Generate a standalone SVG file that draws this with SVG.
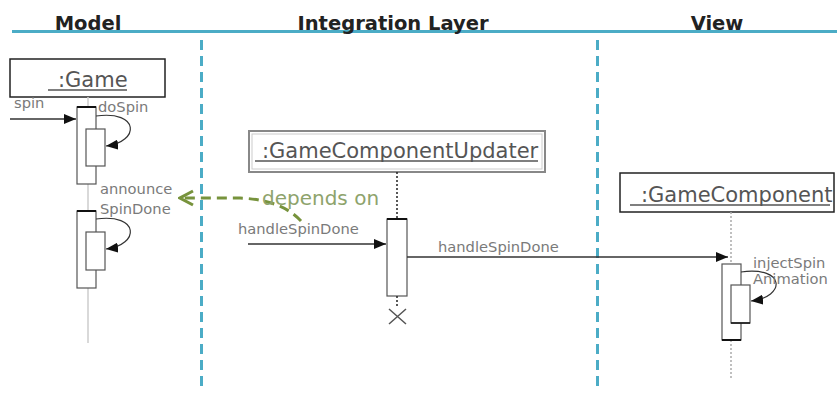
<svg xmlns="http://www.w3.org/2000/svg" width="837" height="394" viewBox="0 0 837 394">
<defs>
<style>
.title{font-family:"DejaVu Sans",Verdana,sans-serif;font-weight:bold;font-size:19.5px;fill:#222}
.obj{font-family:"DejaVu Sans",Verdana,sans-serif;font-size:21px;fill:#555}
.lbl{font-family:"DejaVu Sans",Verdana,sans-serif;font-size:14.7px;fill:#7a7a7a}
.dep{font-family:"DejaVu Sans",Verdana,sans-serif;font-size:20px;fill:#8ea36c}
.sep{stroke:#4bacc6;stroke-width:3;stroke-dasharray:10 6;fill:none}
.act{fill:#fff;stroke:#555;stroke-width:1.2}
.msg{stroke:#333;stroke-width:1.3;fill:none;marker-end:url(#ah)}
.self{stroke:#333;stroke-width:1.2;fill:none;marker-end:url(#ah)}
.ul{stroke:#555;stroke-width:1.5}
</style>
<marker id="ah" viewBox="0 0 12 10" refX="12" refY="5" markerWidth="12" markerHeight="10" markerUnits="userSpaceOnUse" orient="auto">
<path d="M0,0 L12,5 L0,10 Z" fill="#111"/>
</marker>
<marker id="oh" viewBox="0 0 18 18" refX="16" refY="9" markerWidth="18" markerHeight="18" markerUnits="userSpaceOnUse" orient="auto">
<path d="M3,2 L16,9 L3,16" fill="none" stroke="#77933c" stroke-width="3"/>
</marker>
</defs>
<rect width="837" height="394" fill="#fff"/>

<g id="swimlanes">
<line x1="12" y1="31.5" x2="837" y2="31.5" stroke="#4bacc6" stroke-width="3"/>
<text class="title" x="88" y="30" text-anchor="middle">Model</text>
<text class="title" x="393" y="30" text-anchor="middle">Integration Layer</text>
<text class="title" x="717" y="30" text-anchor="middle">View</text>
<line class="sep" x1="201.5" y1="40" x2="201.5" y2="392"/>
<line class="sep" x1="597.5" y1="40" x2="597.5" y2="392"/>
</g>

<g id="game">
<rect x="10" y="59" width="155" height="38" fill="#fff" stroke="#222" stroke-width="1.5"/>
<text class="obj" x="58" y="87">:Game</text>
<line class="ul" x1="48" y1="90" x2="127" y2="90"/>
<line x1="88" y1="97" x2="88" y2="343" stroke="#ccc" stroke-width="1.5"/>
<rect class="act" x="77" y="107" width="19" height="77"/>
<line x1="77" y1="107" x2="96" y2="107" stroke="#111" stroke-width="2"/>
<rect class="act" x="86" y="129" width="19" height="37"/>
<rect class="act" x="77" y="211" width="19" height="77"/>
<line x1="77" y1="211" x2="96" y2="211" stroke="#111" stroke-width="2"/>
<rect class="act" x="86" y="232" width="19" height="38"/>
</g>

<g id="updater">
<rect x="249" y="131" width="296" height="41" fill="#fff" stroke="#888" stroke-width="2"/>
<rect x="252" y="134" width="290" height="35" fill="none" stroke="#ccc" stroke-width="1"/>
<text class="obj" x="262" y="158">:GameComponentUpdater</text>
<line class="ul" x1="255" y1="161" x2="538" y2="161"/>
<line x1="397" y1="172" x2="397" y2="219" stroke="#222" stroke-width="1.5" stroke-dasharray="2 2"/>
<rect class="act" x="387" y="219" width="20" height="77"/>
<line x1="387" y1="219" x2="407" y2="219" stroke="#111" stroke-width="2"/>
<line x1="397" y1="296" x2="397" y2="307" stroke="#222" stroke-width="1.5" stroke-dasharray="2 2"/>
<path d="M389,309 L406,324 M406,309 L389,324" stroke="#555" stroke-width="1.5" fill="none"/>
</g>

<g id="gamecomponent">
<rect x="620" y="173" width="214" height="39" fill="#fff" stroke="#222" stroke-width="1.5"/>
<text class="obj" x="641" y="202">:GameComponent</text>
<line class="ul" x1="630" y1="205" x2="830" y2="205"/>
<line x1="731" y1="212" x2="731" y2="378" stroke="#aaa" stroke-width="1.5" stroke-dasharray="2 2"/>
<rect class="act" x="722" y="264" width="19" height="76"/>
<line x1="722" y1="340" x2="741" y2="340" stroke="#111" stroke-width="2"/>
<rect class="act" x="731" y="285" width="19" height="38"/>
<line x1="731" y1="323" x2="750" y2="323" stroke="#111" stroke-width="1.5"/>
</g>

<g id="connectors">
<line class="msg" x1="10" y1="119" x2="76" y2="119"/>
<text class="lbl" x="14" y="108">spin</text>
<path class="self" d="M96,116 C140,110 140,142 106,146"/>
<text class="lbl" x="98" y="112">doSpin</text>
<path class="self" d="M96,219 C140,213 140,245 106,249"/>
<text class="lbl" x="100" y="194">announce</text>
<text class="lbl" x="100" y="214">SpinDone</text>
<line class="msg" x1="248" y1="244" x2="386" y2="244"/>
<text class="lbl" x="238" y="234">handleSpinDone</text>
<line class="msg" x1="407" y1="257" x2="728" y2="257"/>
<text class="lbl" x="438" y="252">handleSpinDone</text>
<path class="self" d="M741,272 C786,266 786,297 751,301"/>
<text class="lbl" x="753" y="268">injectSpin</text>
<text class="lbl" x="753" y="284">Animation</text>
<path d="M301,221 C285,204 262,199 240,198 L180,198" fill="none" stroke="#77933c" stroke-width="3" stroke-dasharray="10 6" marker-end="url(#oh)"/>
<text class="dep" x="262" y="205">depends on</text>
</g>
</svg>
